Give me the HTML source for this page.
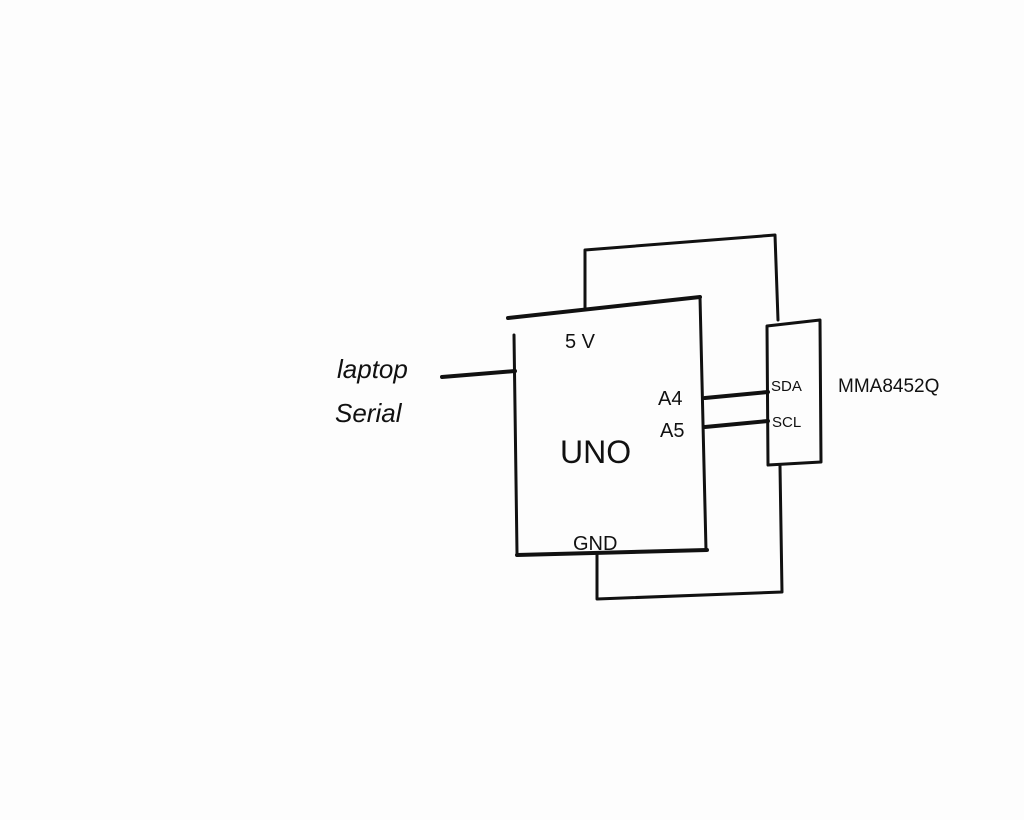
<!DOCTYPE html>
<html><head><style>
html,body{margin:0;padding:0;background:#fff;}
svg{display:block}
text{font-family:"Liberation Sans",sans-serif;fill:#111;}
</style></head><body>
<svg width="1024" height="820" viewBox="0 0 1024 820" xmlns="http://www.w3.org/2000/svg">
<rect width="1024" height="820" fill="#fdfdfd"/>
<g stroke="#111" fill="none" stroke-linecap="round" stroke-linejoin="round">
<!-- UNO box -->
<path d="M508 318 L700 297" stroke-width="4"/>
<path d="M700 297 L706 550" stroke-width="3"/>
<path d="M514 335 L517 553" stroke-width="3"/>
<path d="M517 555 L707 550" stroke-width="4"/>
<!-- 5V wire -->
<path d="M585 308 L585 250 L775 235 L778 320" stroke-width="3"/>
<!-- GND wire -->
<path d="M597 555 L597 599 L782 592 L780 466" stroke-width="3"/>
<!-- sensor box -->
<path d="M767 326 L820 320 L821 462 L768 465 Z" stroke-width="3"/>
<!-- I2C -->
<path d="M705 398 L768 392" stroke-width="4"/>
<path d="M705 427 L768 421" stroke-width="4"/>
<!-- laptop -->
<path d="M442 377 L515 371" stroke-width="4"/>
</g>
<text x="565" y="348" font-size="20">5 V</text>
<text x="560" y="463" font-size="32">UNO</text>
<text x="658" y="405" font-size="20">A4</text>
<text x="660" y="437" font-size="20">A5</text>
<text x="771" y="391" font-size="15">SDA</text>
<text x="772" y="427" font-size="15">SCL</text>
<text x="838" y="392" font-size="19">MMA8452Q</text>
<text x="573" y="550" font-size="20">GND</text>
<text x="337" y="378" font-size="26" font-family="Liberation Serif" font-style="italic">laptop</text>
<text x="335" y="422" font-size="26" font-family="Liberation Serif" font-style="italic">Serial</text>
</svg>
</body></html>
